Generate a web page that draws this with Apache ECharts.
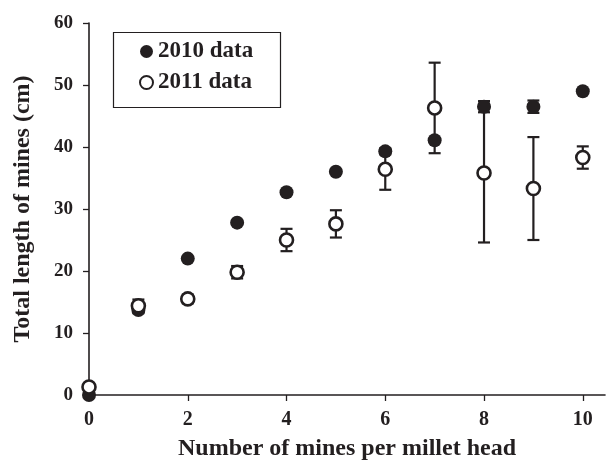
<!DOCTYPE html>
<html>
<head>
<meta charset="utf-8">
<script src="https://cdn.jsdelivr.net/npm/echarts@6/dist/echarts.min.js"></script>
<style>
  html, body { margin: 0; padding: 0; background: #fff; }
  #chart { width: 606px; height: 461px; }
</style>
</head>
<body>
<div id="chart"></div>
<script>
  // mines per head
  var mines = [0, 1, 2, 3, 4, 5, 6, 7, 8, 9, 10];
  var xTicks = [0, 2, 4, 6, 8, 10];
  // 2010 means and SE
  var mean2010 = [0, 13.7, 22.0, 27.8, 32.7, 36.0, 39.3, 41.1, 46.5, 46.5, 49.0];
  var err2010 = [0, 0.5, 0, 0, 0, 0, 0.5, 0, 0.9, 1.0, 0];
  // 2011 means and SE
  var mean2011 = [1.3, 14.4, 15.5, 19.8, 25.0, 27.6, 36.4, 46.3, 35.8, 33.3, 38.3];
  var err2011 = [0, 1.0, 0.7, 1.0, 1.8, 2.2, 3.3, 7.3, 11.2, 8.3, 1.8];

  var ink = '#231f20';
  var serif = 'Liberation Serif';

  function pairs(ys) {
    return mines.map(function (x, i) { return [x, ys[i]]; });
  }
  function errData(ys, es) {
    return mines.map(function (x, i) { return [x, ys[i] - es[i], ys[i] + es[i]]; })
      .filter(function (d) { return d[2] > d[1]; });
  }

  function renderErr(params, api) {
    var x = api.value(0);
    var lo = api.coord([x, api.value(1)]);
    var hi = api.coord([x, api.value(2)]);
    var w = 6;
    var st = { stroke: ink, lineWidth: 2.2 };
    return {
      type: 'group',
      children: [
        { type: 'line', shape: { x1: lo[0], y1: lo[1], x2: hi[0], y2: hi[1] }, style: st },
        { type: 'line', shape: { x1: lo[0] - w, y1: lo[1], x2: lo[0] + w, y2: lo[1] }, style: st },
        { type: 'line', shape: { x1: hi[0] - w, y1: hi[1], x2: hi[0] + w, y2: hi[1] }, style: st }
      ]
    };
  }

  var myChart = echarts.init(document.getElementById('chart'));
  var option = {
    animation: false,
    backgroundColor: '#fff',
    grid: { left: 89, right: 1, top: 23, bottom: 66, outerBoundsMode: 'none', containLabel: false },
    graphic: [{
      type: 'rect',
      left: 111, top: 30,
      shape: { width: 167, height: 75 },
      style: { fill: 'none', stroke: ink, lineWidth: 1.2 },
      z: 10
    }],
    legend: {
      orient: 'vertical',
      left: 139, top: 40,
      itemWidth: 13, itemHeight: 13,
      itemGap: 8,
      padding: 0,
      data: ['2010 data', '2011 data'],
      textStyle: { fontFamily: serif, fontWeight: 'bold', fontSize: 23, color: ink, lineHeight: 23 }
    },
    xAxis: {
      type: 'value', min: 0, max: 10.45, interval: 2,
      name: 'Number of mines per millet head',
      nameLocation: 'middle', nameGap: 42,
      nameTextStyle: { fontFamily: serif, fontWeight: 'bold', fontSize: 24, color: ink },
      splitLine: { show: false },
      axisLine: { lineStyle: { color: ink, width: 1.6 } },
      axisTick: { inside: false, length: 6, customValues: xTicks, lineStyle: { color: ink, width: 1.3 } },
      axisLabel: {
        margin: 15, customValues: xTicks,
        fontFamily: serif, fontWeight: 'bold', fontSize: 20, color: ink
      }
    },
    yAxis: {
      type: 'value', min: 0, max: 60, interval: 10,
      name: 'Total length of mines (cm)',
      nameLocation: 'middle', nameGap: 54,
      nameTextStyle: { fontFamily: serif, fontWeight: 'bold', fontSize: 24, color: ink },
      splitLine: { show: false },
      axisLine: { show: true, lineStyle: { color: ink, width: 1.6 } },
      axisTick: { show: true, inside: false, length: 6, lineStyle: { color: ink, width: 1.3 } },
      axisLabel: { margin: 16, fontFamily: serif, fontWeight: 'bold', fontSize: 19, color: ink }
    },
    series: [
      {
        type: 'custom', name: 'err2010', renderItem: renderErr,
        data: errData(mean2010, err2010), clip: false, z: 2, silent: true
      },
      {
        type: 'custom', name: 'err2011', renderItem: renderErr,
        data: errData(mean2011, err2011), clip: false, z: 3, silent: true
      },
      {
        type: 'scatter', name: '2010 data', data: pairs(mean2010),
        symbol: 'circle', symbolSize: 14, clip: false, z: 4,
        itemStyle: { color: ink, opacity: 1 }
      },
      {
        type: 'scatter', name: '2011 data', data: pairs(mean2011),
        symbol: 'circle', symbolSize: 13, clip: false, z: 5,
        itemStyle: { color: '#fff', borderColor: ink, borderWidth: 2.6, opacity: 1 }
      }
    ]
  };
  myChart.setOption(option);
</script>
</body>
</html>
